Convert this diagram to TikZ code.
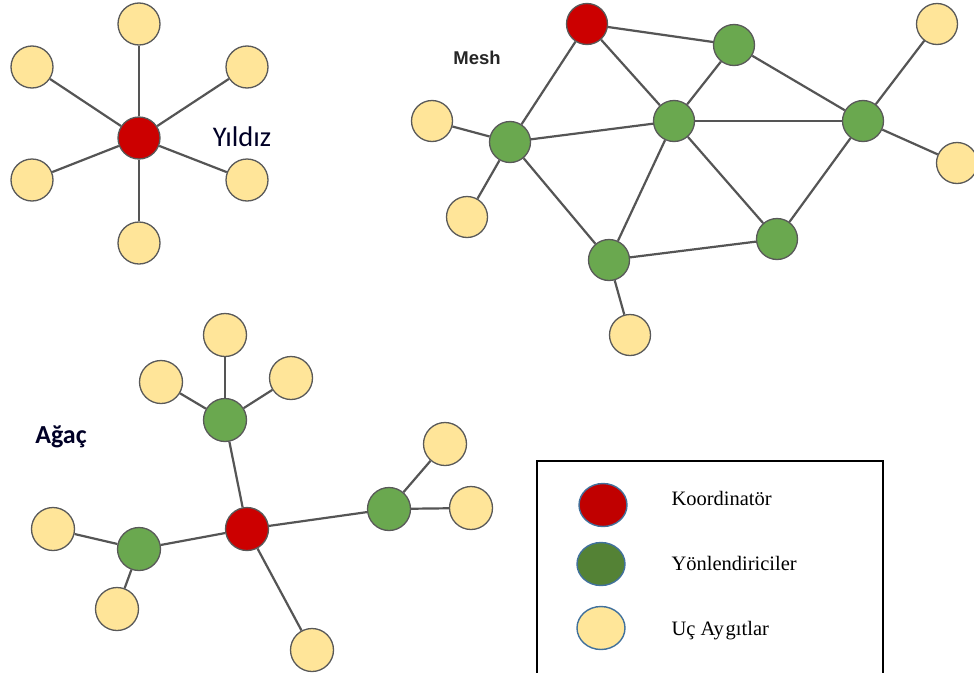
\documentclass[tikz,border=0pt]{standalone}
\usepackage{fontspec}
\usetikzlibrary{shapes.geometric}
\setmainfont{Liberation Serif}
\newfontfamily\carlito{Carlito}
\newfontfamily\arialish{Liberation Sans}
\definecolor{coordred}{HTML}{CC0000}
\definecolor{routergreen}{HTML}{6AA84F}
\definecolor{enddev}{HTML}{FFE599}
\definecolor{rim}{HTML}{595959}
\definecolor{linkgray}{HTML}{555555}
\definecolor{legred}{HTML}{C00000}
\definecolor{leggreen}{HTML}{548235}
\definecolor{legyellow}{HTML}{FFE699}
\definecolor{legrim}{HTML}{41719C}
\begin{document}
\begin{tikzpicture}[x=1pt,y=-1pt,
  dev/.style={circle,draw=rim,line width=1.3pt,minimum size=#1,inner sep=0pt},
  dev/.default=42pt,
  coord/.style={dev=#1,fill=coordred},
  coord/.default=42pt,
  router/.style={dev=#1,fill=routergreen},
  router/.default=42pt,
  leaf/.style={dev=#1,fill=enddev},
  leaf/.default=42pt,
  link/.style={draw=linkgray,line width=2.2pt},
  legsym/.style={ellipse,draw=legrim,line width=1.4pt,minimum width=48pt,minimum height=43pt,inner sep=0pt},
  legtext/.style={anchor=west,font=\fontsize{20.5}{24}\selectfont},
  title/.style={font=\carlito\fontsize{#1}{#1}\selectfont}
]
\useasboundingbox (0,0) rectangle (974,672);
\fill[white] (0,0) rectangle (974,672);

% ---- Star topology ----
\node[coord]  (sc) at (139,138) {};
\node[leaf]   (s1) at (139,24)  {};
\node[leaf]   (s2) at (32,67)   {};
\node[leaf]   (s3) at (247,67)  {};
\node[leaf]   (s4) at (32,180)  {};
\node[leaf]   (s5) at (247,180) {};
\node[leaf]   (s6) at (139,243) {};
\foreach \n in {s1,s2,s3,s4,s5,s6} \draw[link] (sc) -- (\n);
\node[title=28.5, text=black!85!blue] (ylabel) at (242,137) {Yıldız};

% ---- Mesh topology ----
\node[coord=41pt]  (mr)  at (587,24)  {};
\node[router=41pt] (mg1) at (734,45)  {};
\node[router=41pt] (mg2) at (674,121) {};
\node[router=41pt] (mg3) at (510,142) {};
\node[router=41pt] (mg4) at (863,121) {};
\node[router=41pt] (mg5) at (609,260) {};
\node[router=41pt] (mg6) at (777,239) {};
\node[leaf=41pt]   (my1) at (432,121) {};
\node[leaf=41pt]   (my2) at (467,217) {};
\node[leaf=41pt]   (my3) at (630,335) {};
\node[leaf=41pt]   (my4) at (937,24)  {};
\node[leaf=41pt]   (my5) at (957,163) {};
\draw[link] (mr) -- (mg1);
\draw[link] (mr) -- (mg2);
\draw[link] (mr) -- (mg3);
\draw[link] (mg1) -- (mg2);
\draw[link] (mg1) -- (mg4);
\draw[link] (mg3) -- (mg2);
\draw[link] (mg2) -- (mg4);
\draw[link] (mg3) -- (mg5);
\draw[link] (mg2) -- (mg5);
\draw[link] (mg2) -- (mg6);
\draw[link] (mg4) -- (mg6);
\draw[link] (mg5) -- (mg6);
\draw[link] (mg3) -- (my1);
\draw[link] (mg3) -- (my2);
\draw[link] (mg5) -- (my3);
\draw[link] (mg4) -- (my4);
\draw[link] (mg4) -- (my5);
\node[font=\arialish\bfseries\fontsize{18.5}{18.5}\selectfont, text=black!85] (mlabel) at (477,58) {Mesh};

% ---- Tree topology ----
\node[coord=43pt]  (tr)  at (247,529) {};
\node[router=43pt] (tg1) at (225,420) {};
\node[router=43pt] (tg2) at (139,549) {};
\node[router=43pt] (tg3) at (389,509) {};
\node[leaf=43pt]   (ty1) at (225,335) {};
\node[leaf=43pt]   (ty2) at (161,382) {};
\node[leaf=43pt]   (ty3) at (291,378) {};
\node[leaf=43pt]   (ty4) at (445,444) {};
\node[leaf=43pt]   (ty5) at (471,508) {};
\node[leaf=43pt]   (ty6) at (53,529)  {};
\node[leaf=43pt]   (ty7) at (117,609) {};
\node[leaf=43pt]   (ty8) at (312,650) {};
\draw[link] (tr) -- (tg1);
\draw[link] (tr) -- (tg2);
\draw[link] (tr) -- (tg3);
\draw[link] (tr) -- (ty8);
\draw[link] (tg1) -- (ty1);
\draw[link] (tg1) -- (ty2);
\draw[link] (tg1) -- (ty3);
\draw[link] (tg3) -- (ty4);
\draw[link] (tg3) -- (ty5);
\draw[link] (tg2) -- (ty6);
\draw[link] (tg2) -- (ty7);
\node[font=\carlito\bfseries\fontsize{26}{26}\selectfont, text=black!85!blue] (tlabel) at (61,437) {Ağaç};

% ---- Legend ----
\coordinate (lbl) at (537,690);
\coordinate (ltl) at (537,461);
\coordinate (ltr) at (883,461);
\coordinate (lbr) at (883,690);
\draw[black,line width=1.6pt] (lbl) -- (ltl) -- (ltr) -- (lbr);
\node[legsym,fill=legred]    (k1) at (603,505) {};
\node[legsym,fill=leggreen]  (k2) at (601,564) {};
\node[legsym,fill=legyellow] (k3) at (601,628) {};
\node[legtext] (t1) at (668,498) {Koordinatör};
\node[legtext] (t2) at (668,563) {Yönlendiriciler};
\node[legtext] (t3) at (668,631) {Uç Ay\hspace{2pt}gıtlar};
\end{tikzpicture}
\end{document}
